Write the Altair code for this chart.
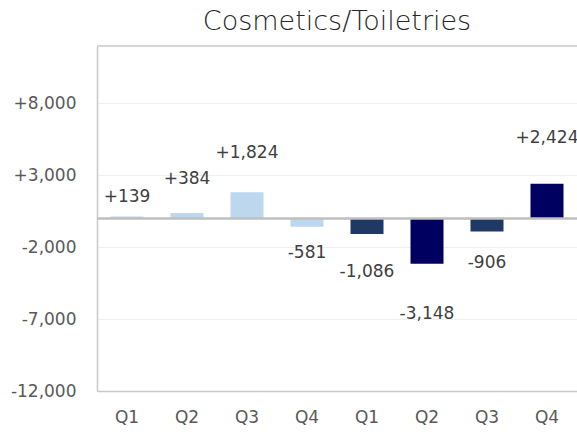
import altair as alt
import pandas as pd

quarters = ["Q1", "Q2", "Q3", "Q4", "Q1", "Q2", "Q3", "Q4"]
years = ["1", "1", "1", "1", "2", "2", "2", "2"]
values = [139, 384, 1824, -581, -1086, -3148, -906, 2424]
shades = ["light", "light", "light", "light", "mid", "dark", "mid", "dark"]
label_at = [1470, 2740, 4530, -2420, -3690, -6650, -3070, 5570]
y_ticks = [-12000, -7000, -2000, 3000, 8000]

df = pd.DataFrame({
    "key": [f"{y}_{q}" for y, q in zip(years, quarters)],
    "value": values,
    "shade": shades,
    "label_at": label_at,
    "text": [("+" if v > 0 else "") + f"{v:,}" for v in values],
})

FONT = "DejaVu Sans"
order = list(df["key"])

x_enc = alt.X("key:N", sort=order, title=None,
              scale=alt.Scale(paddingInner=0.45, paddingOuter=0.225),
              axis=alt.Axis(labelExpr="split(datum.label, '_')[1]", labelAngle=0,
                            labelFont=FONT, labelFontSize=17, labelColor="#595959",
                            labelPadding=18, ticks=False, domainColor="#C8C8C8",
                            domainWidth=1.5, grid=False))
y_scale = alt.Scale(domain=[-12000, 12000], nice=False, zero=False)

bars = alt.Chart(df).mark_bar().encode(
    x=x_enc,
    y=alt.Y("value:Q", scale=y_scale, title=None,
            axis=alt.Axis(values=y_ticks,
                          labelExpr="(datum.value > 0 ? '+' : '-') + format(abs(datum.value), ',')",
                          labelFont=FONT, labelFontSize=17, labelColor="#595959",
                          labelPadding=21, ticks=False, domainColor="#C8C8C8", domainWidth=1.5,
                          gridColor="#EFEFEF", gridWidth=1.2)),
    y2=alt.datum(0),
    color=alt.Color("shade:N", legend=None,
                    scale=alt.Scale(domain=["light", "mid", "dark"],
                                    range=["#BDD7EE", "#203864", "#000060"])),
)

labels = alt.Chart(df).mark_text(font=FONT, fontSize=17, color="#404040", baseline="middle").encode(
    x=alt.X("key:N", sort=order),
    y=alt.Y("label_at:Q", scale=y_scale),
    text="text:N",
)

zero = alt.Chart(pd.DataFrame({"z": [0]})).mark_rule(color="#BFBFBF", strokeWidth=2.5).encode(
    y=alt.Y("z:Q", scale=y_scale)
)

top = alt.Chart(pd.DataFrame({"t": [12000]})).mark_rule(color="#C8C8C8", strokeWidth=1.5).encode(
    y=alt.Y("t:Q", scale=y_scale)
)

chart = alt.layer(bars, zero, top, labels).properties(
    width=480, height=345,
    title=alt.TitleParams("Cosmetics/Toiletries", font=FONT, fontSize=27, fontWeight=200,
                          color="#262626", anchor="middle", offset=9),
    autosize=alt.AutoSizeParams(type="none"),
    padding={"left": 97, "top": 46, "right": 0, "bottom": 43},
).configure_view(stroke=None)

chart.save("out.html", embed_options={"renderer": "svg", "actions": False})
